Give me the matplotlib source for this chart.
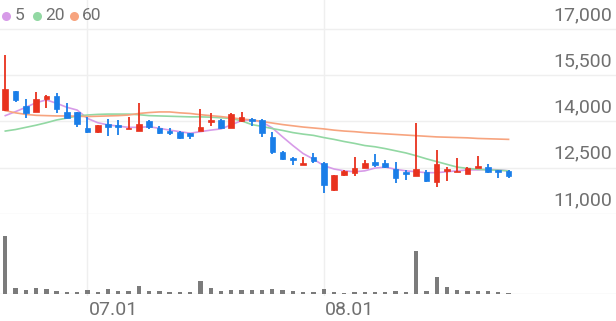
import matplotlib
matplotlib.use("Agg")
import matplotlib.pyplot as plt
from matplotlib.lines import Line2D
from matplotlib.patches import Rectangle

# ---------------- data ----------------
opens  = [14370, 14990, 14510, 14310, 14740, 14830, 14300, 14300, 13800, 13670,
          13920, 13900, 13750, 13700, 14020, 13800, 13700, 13650, 13620, 13690,
          13980, 14040, 13780, 14030, 14070, 14050, 13510, 13020, 12810, 12590,
          12860, 12650, 11780, 12270, 12340, 12480, 12700, 12650, 12460, 12370,
          12240, 12370, 12050, 12400, 12350, 12300, 12500, 12540, 12430, 12400]
highs  = [16160, 14990, 14720, 14950, 14860, 14920, 14610, 14300, 14160, 13890,
          14070, 14050, 14140, 14590, 14060, 13850, 13790, 13700, 13620, 14400,
          14270, 14090, 14270, 14320, 14100, 14070, 13650, 13050, 12860, 12840,
          12970, 12700, 12270, 12430, 12840, 12750, 12940, 12750, 12700, 12430,
          13960, 12430, 13080, 12540, 12810, 12540, 12880, 12610, 12430, 12430]
lows   = [14340, 14640, 14120, 14310, 14430, 14270, 14100, 13810, 13640, 13640,
          13530, 13560, 13750, 13700, 13770, 13580, 13550, 13420, 13420, 13690,
          13860, 13760, 13780, 13990, 13860, 13490, 12950, 12750, 12590, 12590,
          12650, 11670, 11760, 12240, 12230, 12480, 12540, 12480, 12000, 12100,
          12240, 12050, 11890, 12070, 12350, 12300, 12500, 12320, 12160, 12180]
closes = [15050, 14700, 14270, 14720, 14830, 14420, 14120, 13920, 13670, 13890,
          13830, 13810, 13800, 13920, 13830, 13640, 13620, 13460, 13540, 13810,
          14050, 13780, 14230, 14160, 14020, 13620, 13020, 12770, 12750, 12660,
          12730, 11940, 12270, 12410, 12500, 12660, 12590, 12520, 12160, 12300,
          12450, 12070, 12610, 12470, 12400, 12500, 12560, 12350, 12370, 12230]
volumes = [580, 63, 43, 57, 47, 27, 20, 20, 37, 20,
           50, 27, 27, 77, 30, 30, 20, 20, 17, 130,
           57, 30, 40, 40, 37, 40, 50, 37, 27, 20,
           20, 53, 17, 13, 17, 20, 20, 17, 27, 20,
           433, 33, 173, 67, 37, 27, 27, 30, 17, 7]
ma5  = [14190, 14320, 14460, 14610, 14700, 14590, 14460, 14370, 14100, 13960,
        13890, 13850, 13810, 13810, 13830, 13780, 13720, 13670, 13620, 13670,
        13720, 13760, 13890, 14030, 14050, 13980, 13790, 13500, 13220, 12960,
        12780, 12570, 12460, 12400, 12370, 12400, 12490, 12520, 12450, 12400,
        12370, 12340, 12340, 12370, 12400, 12430, 12430, 12450, 12430, 12400]
ma20 = [13690, 13740, 13810, 13880, 13960, 14050, 14110, 14180, 14210, 14230,
        14240, 14240, 14240, 14220, 14190, 14180, 14170, 14160, 14150, 14150,
        14140, 14120, 14100, 14020, 13900, 13840, 13770, 13710, 13640, 13590,
        13550, 13480, 13420, 13350, 13290, 13220, 13180, 13120, 13050, 12980,
        12890, 12790, 12700, 12610, 12520, 12480, 12450, 12430, 12420, 12400]
ma60 = [14350, 14280, 14230, 14200, 14190, 14180, 14180, 14170, 14160, 14170,
        14180, 14190, 14210, 14260, 14290, 14310, 14310, 14280, 14260, 14220,
        14190, 14160, 14120, 14080, 14050, 14000, 13950, 13900, 13860, 13820,
        13790, 13760, 13720, 13690, 13670, 13640, 13620, 13600, 13580, 13560,
        13540, 13520, 13500, 13490, 13480, 13470, 13450, 13440, 13430, 13420]
y_ticks = [11000, 12500, 14000, 15500, 17000]
y_tick_labels = ["11,000", "12,500", "14,000", "15,500", "17,000"]
date_idx = [8, 31]
date_labels = ["07.01", "08.01"]
ma_labels = ["5", "20", "60"]

# ---------------- style ----------------
W, H = 616, 321
UP = "#e8321e"
DOWN = "#1a7ee8"
MA_COLORS = ["#d79be8", "#92d8a3", "#f7a47f"]
GRID = "#efefef"
TXT = "#707070"
FONT = "Roboto"

fig = plt.figure(figsize=(W / 100, H / 100), dpi=100)
XMIN, XMAX = -0.516, 59.46

# background axes for vertical grid lines
bg = fig.add_axes([0, 25 / H, 1, 296 / H], zorder=0)
bg.set_xlim(XMIN, XMAX)
bg.set_ylim(0, 1)
bg.axis("off")
for d in date_idx:
    bg.axvline(d, color=GRID, lw=1.0)

ax = fig.add_axes([0, 107 / H, 1, 214 / H], zorder=1)
ax.patch.set_alpha(0)
ax.set_xlim(XMIN, XMAX)
ax.set_ylim(11000, 17940)
ax.axis("off")
for t in y_ticks:
    ax.axhline(t, color=GRID, lw=1.0, zorder=0)
for t, lab in zip(y_ticks, y_tick_labels):
    ax.annotate(lab, xy=(612 / W, t), xycoords=("axes fraction", "data"),
                xytext=(0, 5), textcoords="offset pixels", ha="right", va="bottom",
                fontsize=14, color=TXT, family=FONT)

x = list(range(len(closes)))
for c, ma in zip(MA_COLORS, [ma5, ma20, ma60]):
    ax.plot(x, ma, color=c, lw=1.2, zorder=2)

bw = 0.55
for i in x:
    o, h, l, c = opens[i], highs[i], lows[i], closes[i]
    col = UP if c >= o else DOWN
    ax.vlines(i, l, h, color=col, lw=1.3, zorder=3)
    lo, hi = min(o, c), max(o, c)
    if hi - lo < 30:
        hi = lo + 30
    ax.add_patch(Rectangle((i - bw / 2, lo), bw, hi - lo, facecolor=col,
                           edgecolor=col, lw=0.5, zorder=4))

vax = fig.add_axes([0, 27 / H, 1, 72 / H], zorder=1)
vax.patch.set_alpha(0)
vax.set_xlim(XMIN, XMAX)
vax.set_ylim(0, 720)
vax.axis("off")
vax.axhline(0, color="#e6e6e6", lw=1.0, zorder=0)
vax.bar(x, volumes, width=0.42, color="#7b7b7b", zorder=2)

for d, lab in zip(date_idx, date_labels):
    bg.annotate(lab, xy=(d, 1 - 310 / H), xycoords=("data", "figure fraction"),
                xytext=(1, 0), textcoords="offset pixels", ha="left", va="center",
                fontsize=14, color=TXT, family=FONT)

# legend
leg_dots = [5.5, 37, 73.7]
leg_text = [15, 45.5, 82]
for xd, xt, c, lab in zip(leg_dots, leg_text, MA_COLORS, ma_labels):
    fig.add_artist(Line2D([xd / W], [1 - 16 / H], marker="o", markersize=6.5,
                          color=c, markeredgewidth=0, transform=fig.transFigure))
    fig.text(xt / W, 1 - 16 / H, lab, ha="left", va="center", fontsize=12.5,
             color=TXT, family=FONT)

fig.savefig("out.png", dpi=100)
